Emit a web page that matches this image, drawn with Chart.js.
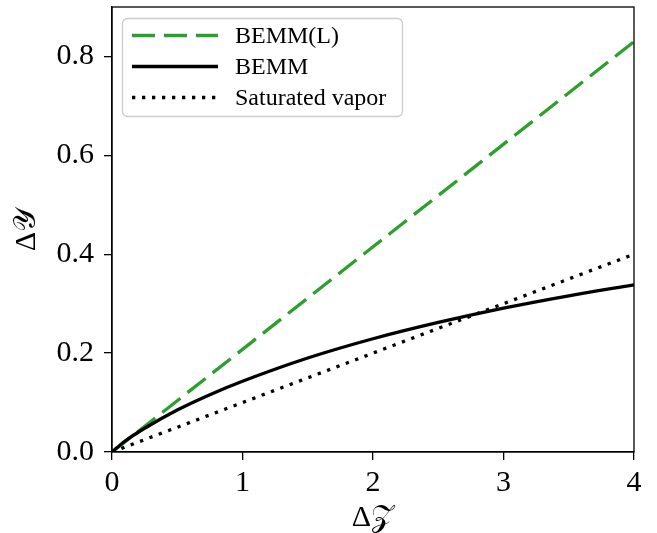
<!DOCTYPE html>
<html>
<head>
<meta charset="utf-8">
<script src="https://cdn.jsdelivr.net/npm/chart.js@4/dist/chart.umd.min.js"></script>
<style>
  html, body { margin: 0; padding: 0; background: #ffffff; }
  #wrap { width: 657px; height: 533px; }
</style>
</head>
<body>
<div id="wrap"><canvas id="c" width="657" height="533"></canvas></div>
<script>
// Curve samples: displacement ΔZ against response ΔY
const zCurve = [0, 0.1, 0.25, 0.5, 0.75, 1, 1.5, 2, 2.5, 3, 3.5, 4];
const bemm = [0, 0.022, 0.048, 0.085, 0.116, 0.143, 0.190, 0.229, 0.262, 0.291, 0.316, 0.338];

const zLine = [0, 4];
const bemmLinear = [0, 0.83];
const saturatedVapor = [0, 0.4];

const seriesNames = ['BEMM(L)', 'BEMM', 'Saturated vapor'];

const xTicks = [0, 1, 2, 3, 4];
const yTicks = [0.0, 0.2, 0.4, 0.6, 0.8];

const SERIF = "'Liberation Serif', 'DejaVu Serif', serif";

function pairs(xs, ys) { return xs.map((x, i) => ({ x: x, y: ys[i] })); }

// Closed frame around the plotting area (top and right spines included)
const framePlugin = {
  id: 'frame',
  afterDatasetsDraw(chart) {
    const a = chart.chartArea, ctx = chart.ctx;
    ctx.save();
    ctx.strokeStyle = '#000';
    ctx.lineWidth = 1.3;
    ctx.setLineDash([]);
    ctx.strokeRect(a.left, a.top, a.right - a.left, a.bottom - a.top);
    ctx.restore();
  }
};

// Legend box with line samples in the upper-left corner
const legendPlugin = {
  id: 'lineLegend',
  afterDraw(chart) {
    const ctx = chart.ctx;
    const bx = 122.5, by = 18.5, bw = 280, bh = 98;
    ctx.save();
    ctx.beginPath();
    ctx.roundRect(bx, by, bw, bh, 5);
    ctx.fillStyle = 'rgba(255,255,255,0.8)';
    ctx.fill();
    ctx.strokeStyle = '#cccccc';
    ctx.lineWidth = 1.3;
    ctx.stroke();
    const rows = [35.5, 66.5, 97.5];
    chart.data.datasets.forEach((ds, i) => {
      const y = rows[i];
      ctx.beginPath();
      ctx.setLineDash(ds.borderDash || []);
      ctx.lineDashOffset = 0;
      ctx.strokeStyle = ds.borderColor;
      ctx.lineWidth = ds.borderWidth;
      ctx.lineCap = 'butt';
      ctx.moveTo(132, y);
      ctx.lineTo(218, y);
      ctx.stroke();
      ctx.setLineDash([]);
      ctx.fillStyle = '#000';
      ctx.font = '24px ' + SERIF;
      ctx.textBaseline = 'middle';
      ctx.textAlign = 'left';
      ctx.fillText(ds.label, 235, y + 1);
    });
    ctx.restore();
  }
};

new Chart(document.getElementById('c'), {
  type: 'line',
  data: {
    datasets: [
      {
        label: seriesNames[0],
        data: pairs(zLine, bemmLinear),
        borderColor: '#2ca02c',
        borderWidth: 3.3,
        borderDash: [23, 9],
        pointRadius: 0,
        fill: false,
        order: 3
      },
      {
        label: seriesNames[1],
        data: pairs(zCurve, bemm),
        borderColor: '#000000',
        borderWidth: 3.3,
        cubicInterpolationMode: 'monotone',
        pointRadius: 0,
        fill: false,
        order: 2
      },
      {
        label: seriesNames[2],
        data: pairs(zLine, saturatedVapor),
        borderColor: '#000000',
        borderWidth: 3.3,
        borderDash: [3.3, 6.7],
        pointRadius: 0,
        fill: false,
        order: 1
      }
    ]
  },
  options: {
    responsive: false,
    animation: false,
    devicePixelRatio: 1,
    layout: { padding: { top: 7, right: 23, left: 0, bottom: 0 } },
    plugins: {
      legend: { display: false },
      tooltip: { enabled: false }
    },
    scales: {
      x: {
        type: 'linear',
        min: 0,
        max: 4,
        afterBuildTicks(scale) { scale.ticks = xTicks.map(v => ({ value: v })); },
        afterFit(scale) {
          scale.height = 81;
          scale.paddingLeft = 0;
          scale.paddingRight = 0;
        },
        ticks: {
          color: '#000',
          font: { family: SERIF, size: 30 },
          padding: 5,
          maxRotation: 0,
          callback: v => String(v)
        },
        grid: {
          drawOnChartArea: false,
          drawTicks: true,
          tickLength: 8,
          color: '#000',
          lineWidth: 1.3
        },
        border: { display: true, color: '#000', width: 1.3 },
        title: {
          display: true,
          text: 'Δ𝒵',
          color: '#000',
          font: { family: SERIF, size: 30 },
          padding: { top: 0, bottom: -3 }
        }
      },
      y: {
        type: 'linear',
        min: 0,
        max: 0.9,
        afterBuildTicks(scale) { scale.ticks = yTicks.map(v => ({ value: v })); },
        afterFit(scale) {
          scale.width = 112;
          scale.paddingTop = 0;
          scale.paddingBottom = 0;
        },
        ticks: {
          color: '#000',
          font: { family: SERIF, size: 30 },
          padding: 10,
          callback: v => Number(v).toFixed(1)
        },
        grid: {
          drawOnChartArea: false,
          drawTicks: true,
          tickLength: 8,
          color: '#000',
          lineWidth: 1.3
        },
        border: { display: true, color: '#000', width: 1.3 },
        title: {
          display: true,
          text: 'Δ𝒴',
          color: '#000',
          font: { family: SERIF, size: 30 },
          padding: { top: 9, bottom: 0 }
        }
      }
    }
  },
  plugins: [framePlugin, legendPlugin]
});
</script>
</body>
</html>
